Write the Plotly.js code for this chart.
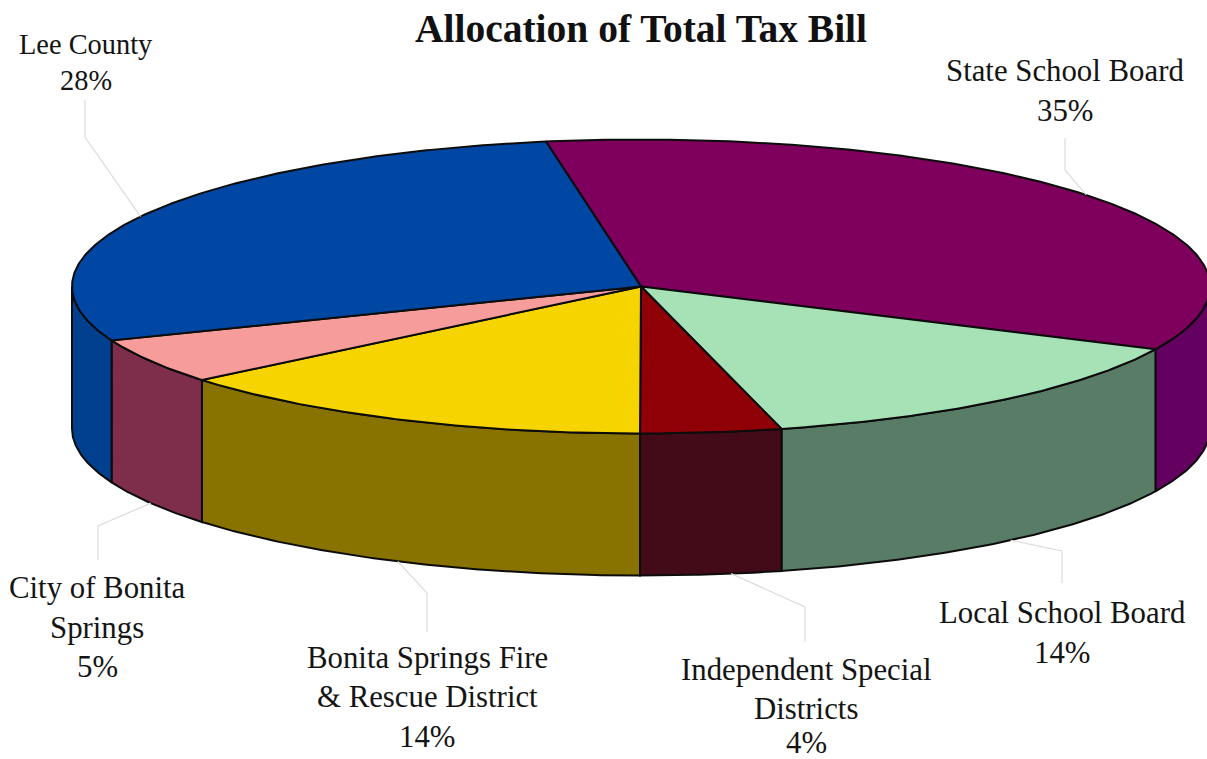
<!DOCTYPE html>
<html>
<head>
<meta charset="utf-8">
<script src="https://cdn.plot.ly/plotly-3.0.1.min.js"></script>
<style>html,body{margin:0;padding:0;background:#fff}#chart{width:1207px;height:759px}</style>
</head>
<body>
<div id="chart"></div>
<script>
// Shares of the tax bill, clockwise from the top of the disc
const categories = ["State School Board", "Local School Board", "Independent Special Districts",
  "Bonita Springs Fire & Rescue District", "City of Bonita Springs", "Lee County"];
const shares = [35, 14, 4, 14, 5, 28];

const topColors = ["#7E005C", "#A6E2B6", "#8F0007", "#F5D400", "#F69D9C", "#0047A4"];
const wallColors = ["#64005F", "#587C66", "#430B17", "#887200", "#7E2E4B", "#00408E"];

// Label text broken into rows, followed by the percentage row
const labelRows = [["State School Board"], ["Local School Board"], ["Independent Special", "Districts"],
  ["Bonita Springs Fire", "& Rescue District"], ["City of Bonita", "Springs"], ["Lee County"]];
const labelX = [1065, 1062, 806, 427, 97, 86];
const labelRowY = [[71, 111], [613, 653], [670, 709, 743], [658, 697, 737], [588, 628, 667], [44, 80]];
const labelSize = [30.8, 30.8, 30.8, 30.8, 30.8, 28.4];

// Leader lines: elbow and end of each line, starting from the slice's outer rim
const leaderElbowX = [1065, 1062, 805, 427, 98, 85];
const leaderElbowY = [170, 551, 607, 593, 526, 137];
const leaderEndY = [138, 583, 642, 632, 560, 100];
const leaderAngleShift = [-1.5, -1, -2, 0, 0, -1];

// Projected disc; the far side of the rim is slightly compressed by perspective
const cx = 641, cy = 286.5, rx = 569, ry = 147, depth = 142, startDeg = -10.7, farSkew = 1.1;

const rad = d => d * Math.PI / 180;
const view = d => d + farSkew * Math.max(0, Math.cos(rad(d)));
const px = d => cx + rx * Math.sin(rad(view(d)));
const py = (d, drop) => cy - ry * Math.cos(rad(view(d))) + drop;

function arc(from, to, drop) {
  const n = Math.max(2, Math.ceil(Math.abs(to - from) * 2));
  const xs = [], ys = [];
  for (let i = 0; i <= n; i++) {
    const d = from + (to - from) * i / n;
    xs.push(px(d));
    ys.push(py(d, drop));
  }
  return {xs, ys};
}

const total = shares.reduce((a, b) => a + b, 0);
let cursor = startDeg;
const spans = shares.map(v => {
  const from = cursor;
  cursor += v / total * 360;
  return [from, cursor];
});

const outline = {color: "#0c0c0c", width: 2};
const traces = [];

// Side walls: only the front half of the rim is visible
spans.forEach(([a, b], i) => {
  const from = Math.max(a, 90), to = Math.min(b, 270);
  if (to <= from) return;
  const upper = arc(from, to, 0), lower = arc(to, from, depth);
  traces.push({
    type: "scatter", mode: "lines", name: categories[i], fill: "toself", fillcolor: wallColors[i],
    x: [...upper.xs, ...lower.xs, upper.xs[0]],
    y: [...upper.ys, ...lower.ys, upper.ys[0]],
    line: outline, hoverinfo: "name"
  });
});

// Top face wedges
spans.forEach(([a, b], i) => {
  const rim = arc(a, b, 0);
  traces.push({
    type: "scatter", mode: "lines", name: categories[i], fill: "toself", fillcolor: topColors[i],
    x: [cx, ...rim.xs, cx],
    y: [cy, ...rim.ys, cy],
    line: outline, hoverinfo: "name"
  });
});

// Thin grey leader lines from the rim to each label
spans.forEach(([a, b], i) => {
  const mid = (a + b) / 2 + leaderAngleShift[i];
  const front = Math.cos(rad(mid)) < 0;
  traces.push({
    type: "scatter", mode: "lines", hoverinfo: "skip",
    x: [px(mid), leaderElbowX[i], leaderElbowX[i]],
    y: [py(mid, front ? depth : 0), leaderElbowY[i], leaderEndY[i]],
    line: {color: "#dcdcdc", width: 1.2}
  });
});

const annotations = [];
labelRows.forEach((rows, i) => {
  [...rows, shares[i] + "%"].forEach((text, r) => {
    annotations.push({
      xref: "x", yref: "y", x: labelX[i], y: labelRowY[i][r], text,
      showarrow: false, xanchor: "center", yanchor: "middle",
      font: {family: "Liberation Serif", size: labelSize[i], color: "#141414"}
    });
  });
});

const layout = {
  width: 1207, height: 759,
  margin: {l: 0, r: 0, t: 0, b: 0},
  paper_bgcolor: "#fff", plot_bgcolor: "#fff",
  showlegend: false,
  title: {
    text: "<b>Allocation of Total Tax Bill</b>",
    font: {family: "Liberation Serif", size: 39.5, color: "#111"},
    x: 641 / 1207, xanchor: "center", y: 1 - 28 / 759, yanchor: "middle"
  },
  xaxis: {range: [0, 1207], visible: false, fixedrange: true},
  yaxis: {range: [759, 0], visible: false, fixedrange: true},
  annotations
};

Plotly.newPlot("chart", traces, layout, {displayModeBar: false, responsive: false});
</script>
</body>
</html>
